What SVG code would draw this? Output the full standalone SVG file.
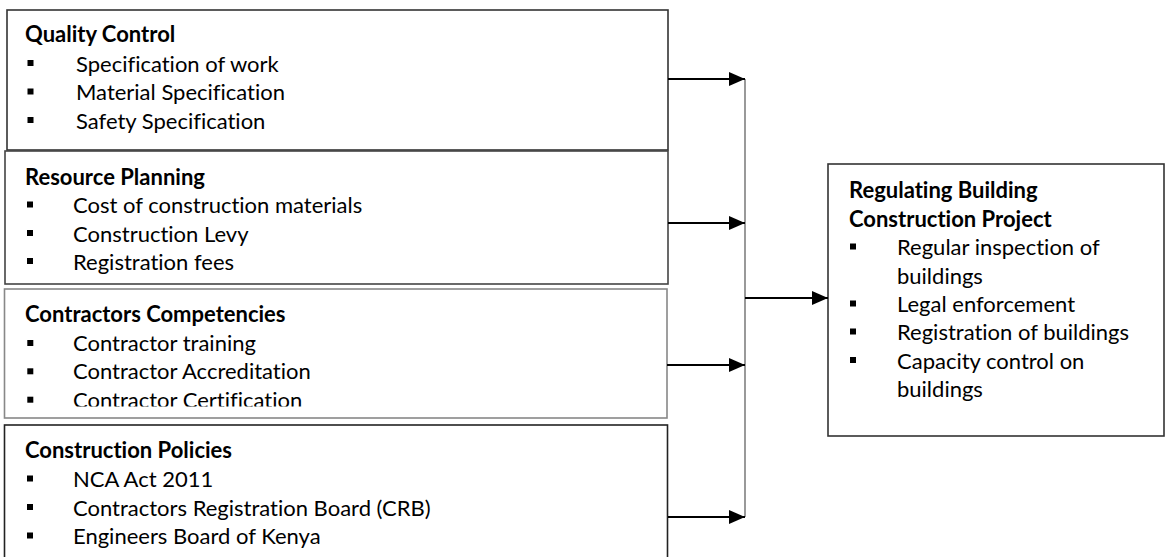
<svg xmlns="http://www.w3.org/2000/svg" width="1165" height="557" viewBox="0 0 1165 557">
<style>
  .box { fill: #ffffff; stroke-width: 1.6; }
  .t { font-family: Lato, "Liberation Sans", sans-serif; font-size: 22px; fill: #000; font-variant-ligatures: none; font-feature-settings: "liga" 0, "dlig" 0, "calt" 0, "clig" 0; }
  .h { font-weight: bold; }
  .bul { fill: #000; }
  .conn { stroke: #000; stroke-width: 2; fill: none; }
  .bus { stroke: #808080; stroke-width: 1.6; fill: none; }
</style>
<defs>
  <marker id="ah" markerUnits="userSpaceOnUse" markerWidth="16" markerHeight="14" refX="16" refY="7" orient="auto">
    <path d="M0,0 L16,7 L0,14 Z" fill="#000"/>
  </marker>
  <clipPath id="clip3"><rect x="0" y="289" width="668" height="117.5"/></clipPath>
</defs>
<rect width="1165" height="557" fill="#fff"/>

<g id="quality-control">
  <rect class="box" x="7" y="10" width="661" height="140" stroke="#333"/>
  <text class="t h" x="25" y="42">Quality Control</text>
  <rect class="bul" x="27.5" y="60" width="6" height="6"/>
  <text class="t" x="76" y="72">Specification of work</text>
  <rect class="bul" x="27.5" y="88.5" width="6" height="6"/>
  <text class="t" x="76" y="100">Material Specification</text>
  <rect class="bul" x="27.5" y="117" width="6" height="6"/>
  <text class="t" x="76" y="128.5">Safety Specification</text>
</g>

<g id="resource-planning">
  <rect class="box" x="5" y="151" width="663" height="133" stroke="#444"/>
  <text class="t h" x="25" y="185">Resource Planning</text>
  <rect class="bul" x="27" y="201.5" width="6" height="6"/>
  <text class="t" x="73" y="213">Cost of construction materials</text>
  <rect class="bul" x="27" y="230" width="6" height="6"/>
  <text class="t" x="73" y="241.5">Construction Levy</text>
  <rect class="bul" x="27" y="258" width="6" height="6"/>
  <text class="t" x="73" y="269.5">Registration fees</text>
</g>

<g id="contractors-competencies">
  <rect class="box" x="4.5" y="289" width="662.5" height="129" stroke="#888"/>
  <text class="t h" x="25" y="322">Contractors Competencies</text>
  <rect class="bul" x="27.3" y="340" width="6" height="6"/>
  <text class="t" x="73" y="351">Contractor training</text>
  <rect class="bul" x="27.3" y="368.3" width="6" height="6"/>
  <text class="t" x="73" y="379">Contractor Accreditation</text>
  <g clip-path="url(#clip3)">
    <rect class="bul" x="27.3" y="396.7" width="6" height="6"/>
    <text class="t" x="73" y="407.5">Contractor Certification</text>
  </g>
</g>

<g id="construction-policies">
  <rect class="box" x="4.5" y="425" width="663" height="140" stroke="#222"/>
  <text class="t h" x="25" y="458">Construction Policies</text>
  <rect class="bul" x="27" y="475.5" width="6" height="6"/>
  <text class="t" x="73" y="487">NCA Act 2011</text>
  <rect class="bul" x="27" y="504" width="6" height="6"/>
  <text class="t" x="73" y="515.5">Contractors Registration Board (CRB)</text>
  <rect class="bul" x="27" y="532.5" width="6" height="6"/>
  <text class="t" x="73" y="544">Engineers Board of Kenya</text>
</g>

<g id="regulating-building">
  <rect class="box" x="828" y="164" width="336" height="272" stroke="#333"/>
  <text class="t h" x="849" y="198">Regulating Building</text>
  <text class="t h" x="849" y="227">Construction Project</text>
  <rect class="bul" x="850" y="243.5" width="6" height="6"/>
  <text class="t" x="897" y="255">Regular inspection of</text>
  <text class="t" x="897" y="283.5">buildings</text>
  <rect class="bul" x="850" y="300.5" width="6" height="6"/>
  <text class="t" x="897" y="312">Legal enforcement</text>
  <rect class="bul" x="850" y="328.5" width="6" height="6"/>
  <text class="t" x="897" y="340">Registration of buildings</text>
  <rect class="bul" x="850" y="357" width="6" height="6"/>
  <text class="t" x="897" y="368.5">Capacity control on</text>
  <text class="t" x="897" y="397">buildings</text>
</g>

<g id="connectors">
  <line class="bus" x1="745" y1="79" x2="745" y2="517"/>
  <line class="conn" x1="668" y1="79" x2="745" y2="79" marker-end="url(#ah)"/>
  <line class="conn" x1="668" y1="223" x2="745" y2="223" marker-end="url(#ah)"/>
  <line class="conn" x1="667" y1="365" x2="745" y2="365" marker-end="url(#ah)"/>
  <line class="conn" x1="668" y1="517" x2="745" y2="517" marker-end="url(#ah)"/>
  <line class="conn" x1="745" y1="298" x2="828" y2="298" marker-end="url(#ah)"/>
</g>
</svg>
